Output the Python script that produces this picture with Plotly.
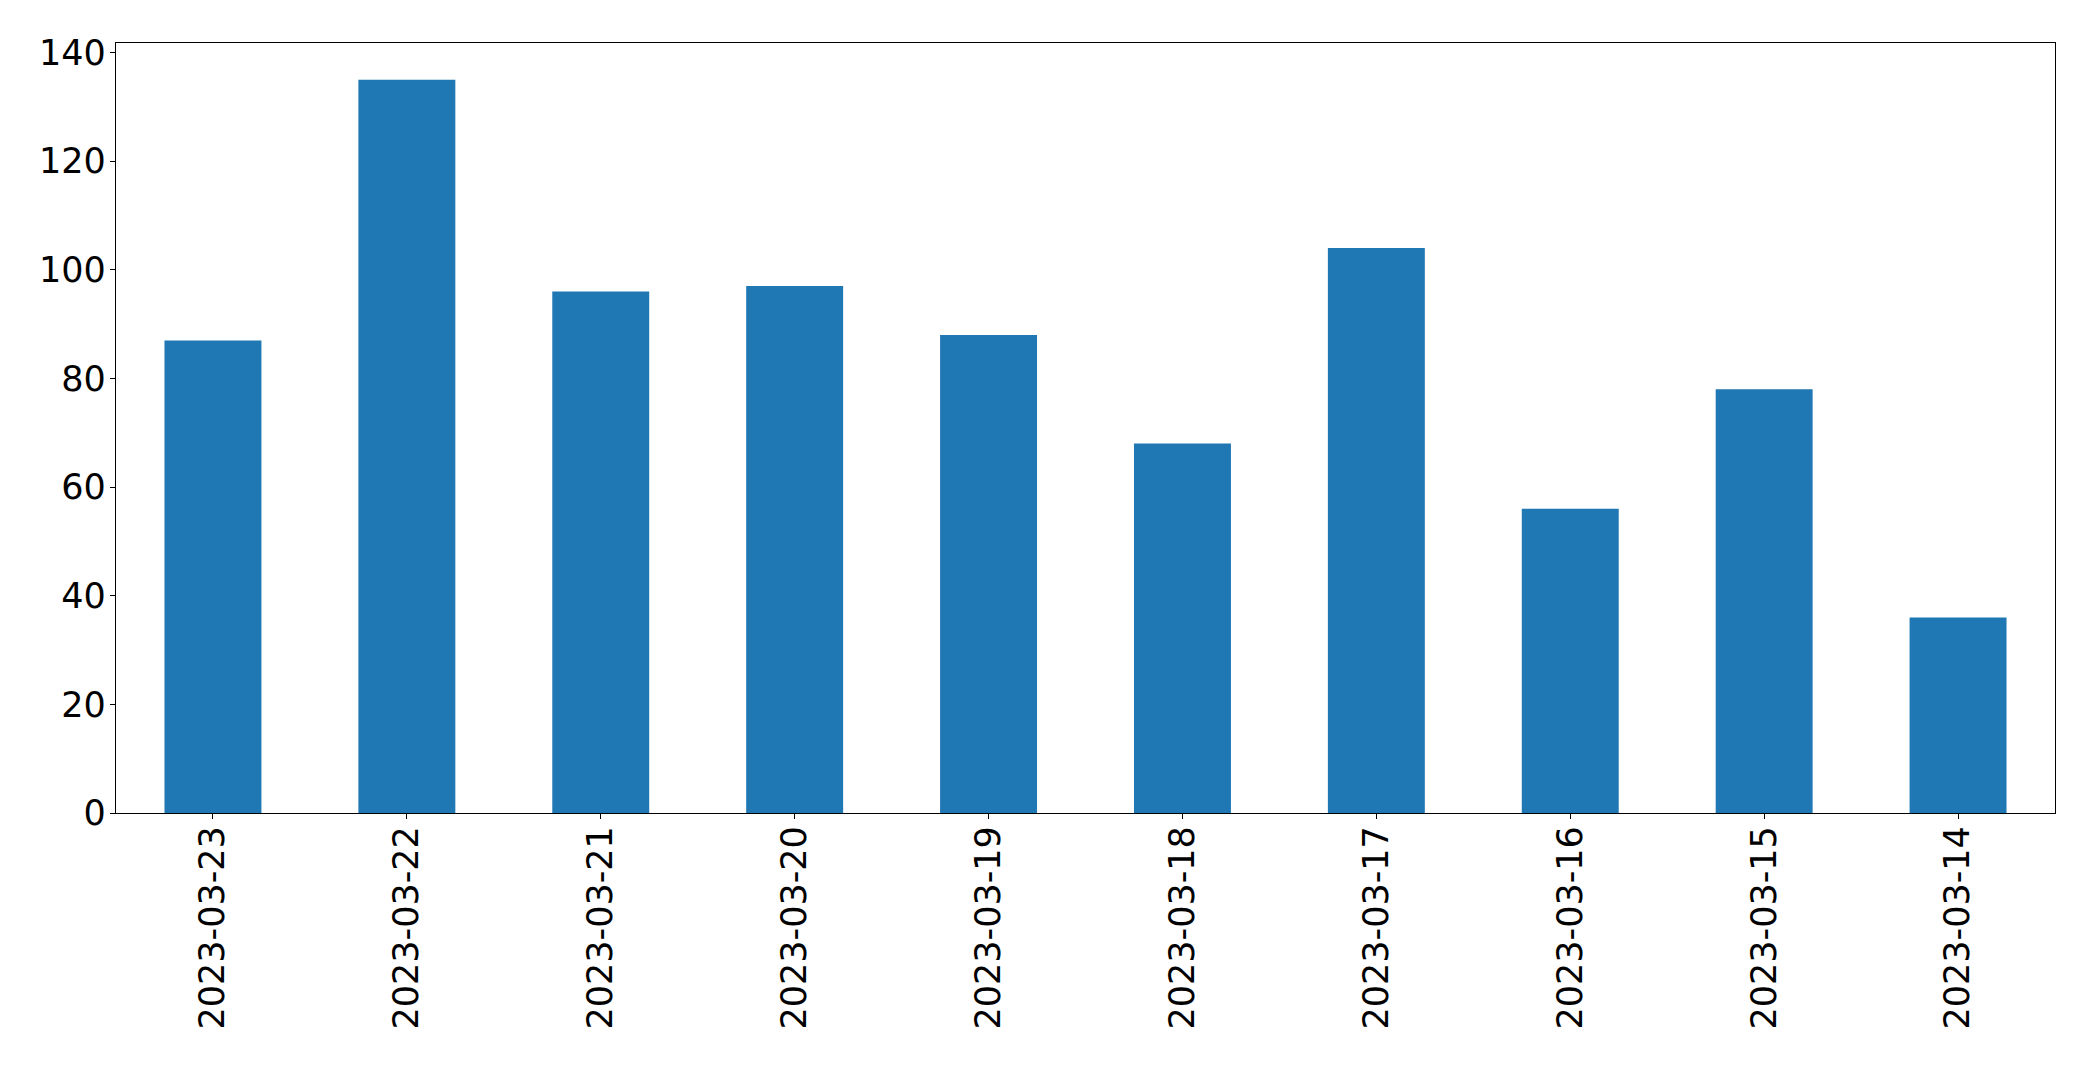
import plotly.graph_objects as go

dates = ["2023-03-23", "2023-03-22", "2023-03-21", "2023-03-20", "2023-03-19",
         "2023-03-18", "2023-03-17", "2023-03-16", "2023-03-15", "2023-03-14"]
counts = [87, 135, 96, 97, 88, 68, 104, 56, 78, 36]
y_ticks = [0, 20, 40, 60, 80, 100, 120, 140]

fig = go.Figure(go.Bar(x=dates, y=counts, marker=dict(color="#1f77b4", line=dict(width=0))))

fig.update_layout(
    width=2093, height=1065, autosize=False,
    margin=dict(l=108, r=46, t=35, b=260, pad=0),
    paper_bgcolor="white", plot_bgcolor="white",
    bargap=0.5, showlegend=False,
    font=dict(family="DejaVu Sans", size=35, color="black"),
)
fig.update_xaxes(
    type="category", range=[-0.5, len(dates) - 0.5],
    showline=True, linecolor="black", linewidth=1.3, mirror=True,
    ticks="outside", ticklen=5, tickwidth=1.3, tickcolor="black",
    tickangle=-90, showgrid=False, zeroline=False, ticklabelstandoff=-7,
    tickfont=dict(family="DejaVu Sans", size=35, color="black"),
)
fig.update_yaxes(
    range=[0, max(counts) * 1.05], tickvals=y_ticks,
    showline=True, linecolor="black", linewidth=1.3, mirror=True,
    ticks="outside", ticklen=5, tickwidth=1.3, tickcolor="black",
    showgrid=False, zeroline=False, ticklabelstandoff=-3,
    tickfont=dict(family="DejaVu Sans", size=35, color="black"),
)

fig.write_html("out.html")
